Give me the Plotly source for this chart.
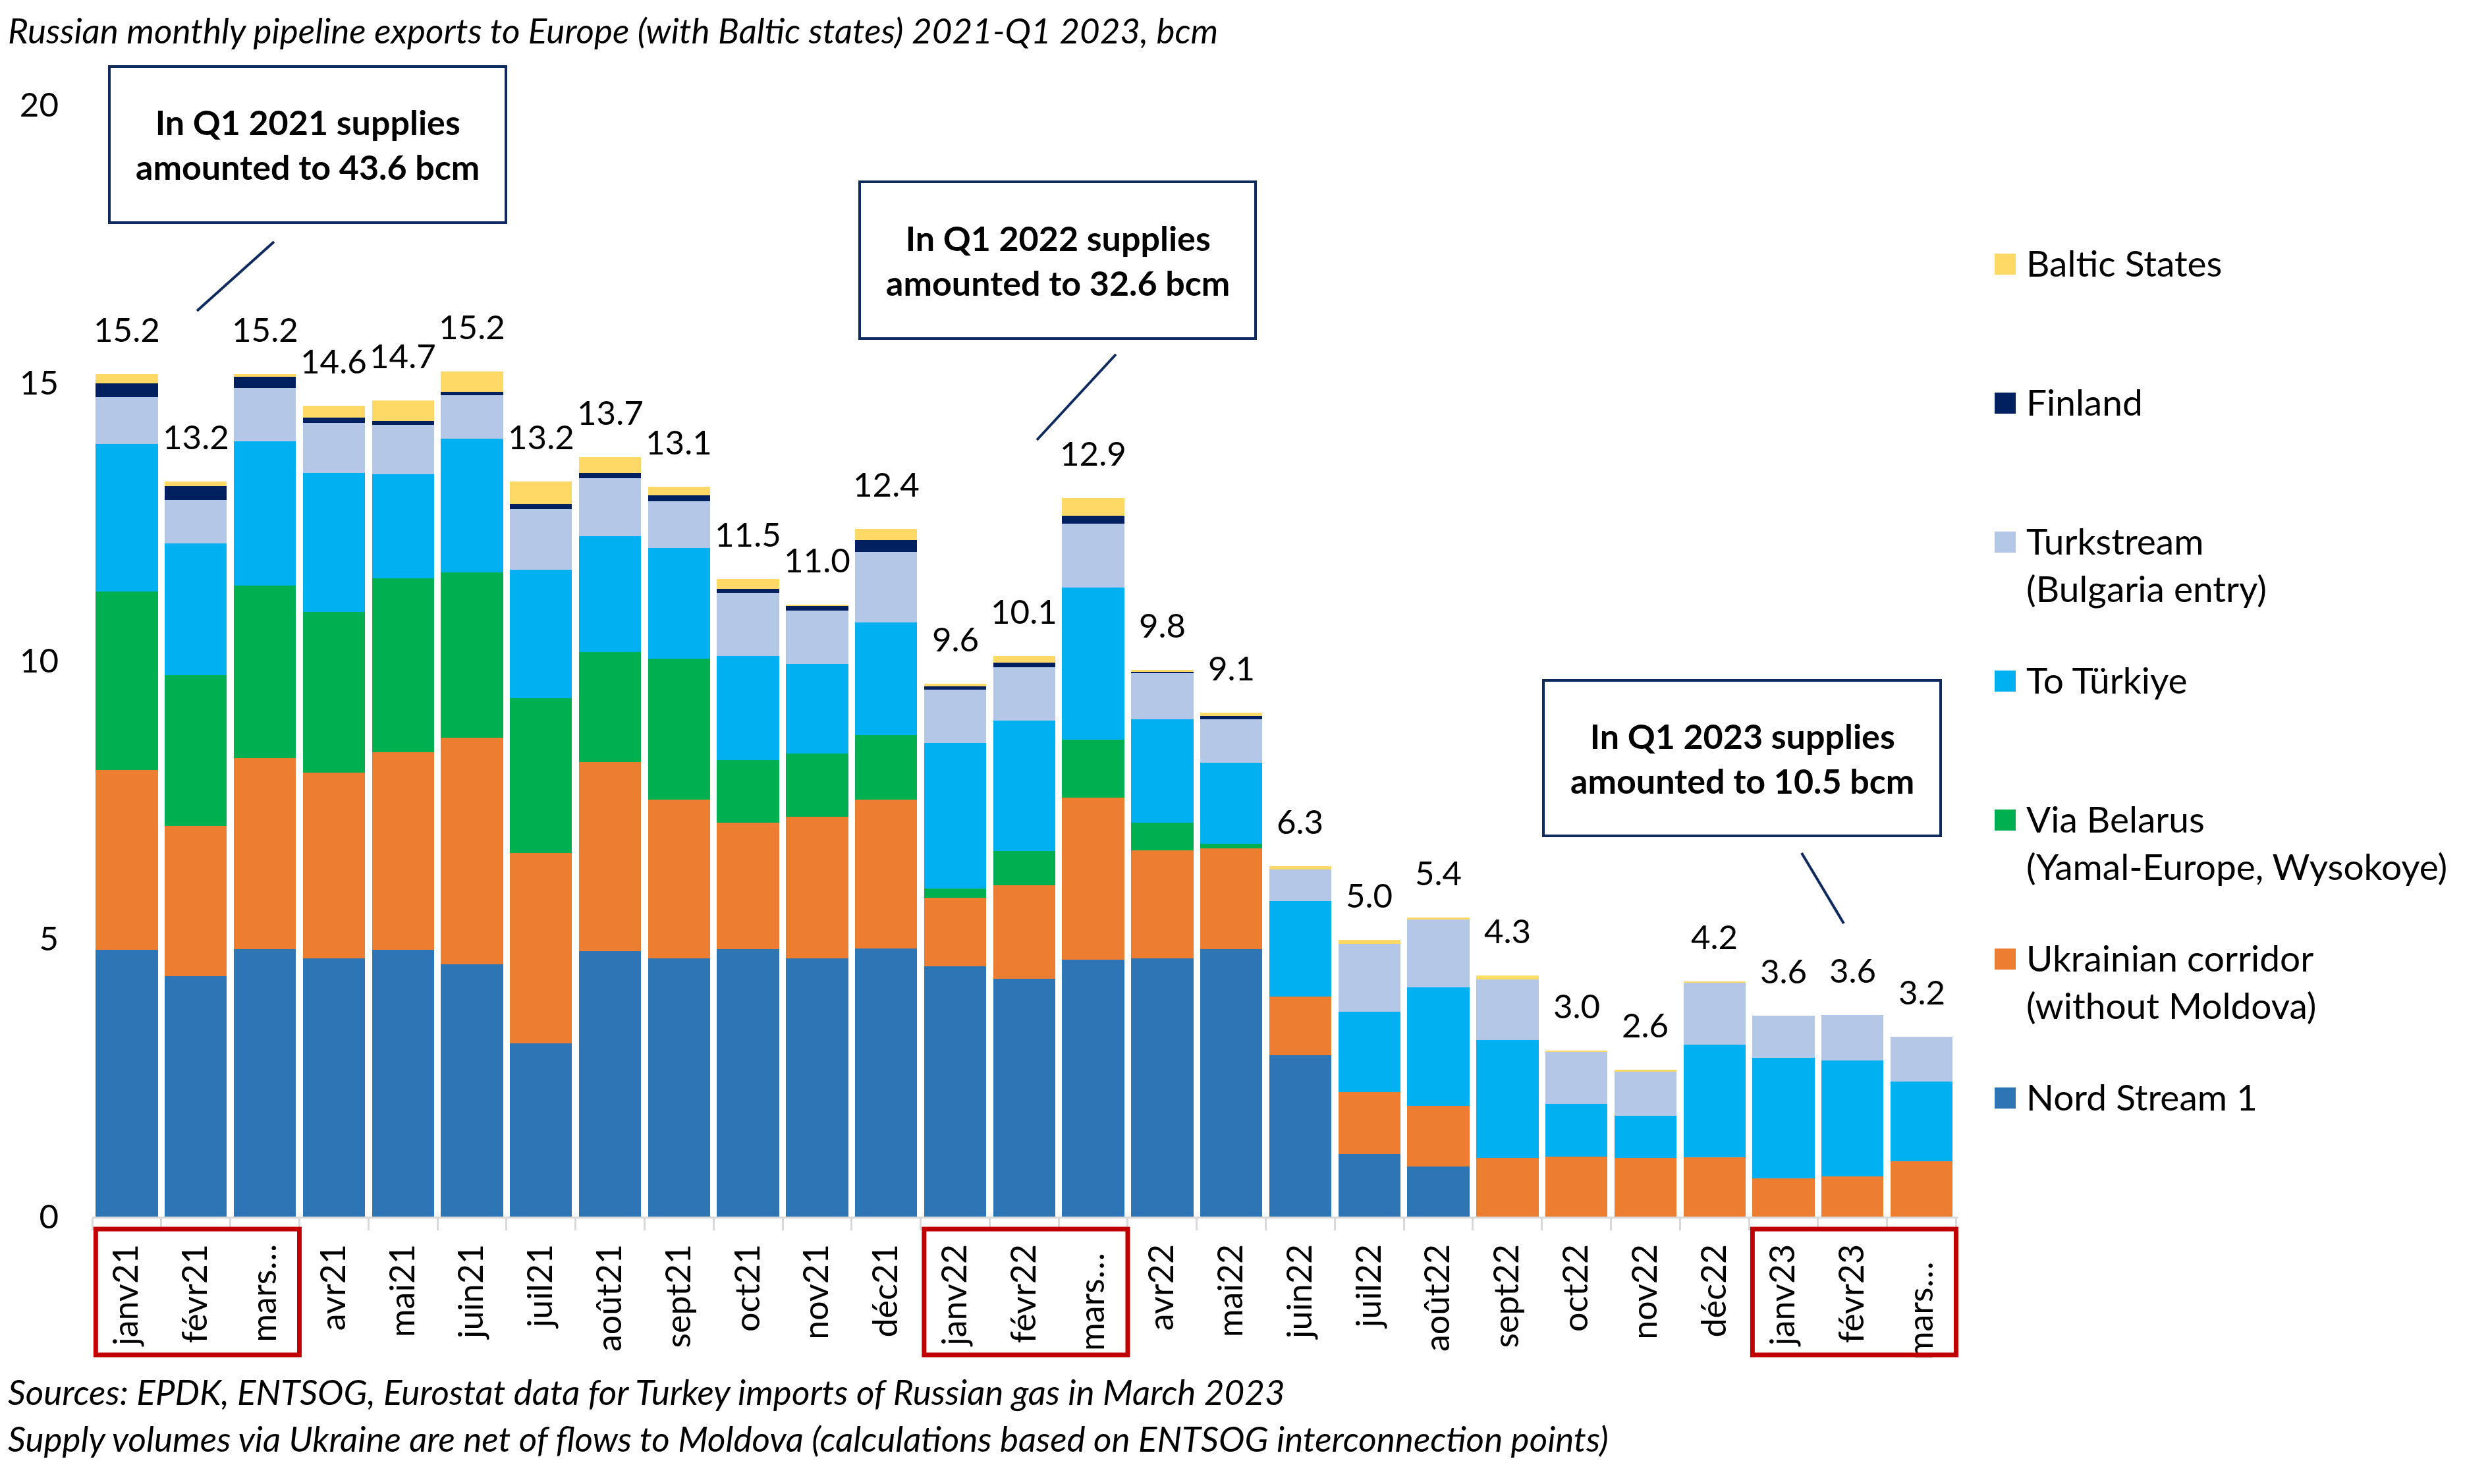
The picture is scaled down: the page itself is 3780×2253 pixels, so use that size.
import plotly.graph_objects as go

# monthly categories (as shown on the axis)
months = ["janv21", "févr21", "mars…", "avr21", "mai21", "juin21", "juil21", "août21",
          "sept21", "oct21", "nov21", "déc21", "janv22", "févr22", "mars… ", "avr22",
          "mai22", "juin22", "juil22", "août22", "sept22", "oct22", "nov22", "déc22",
          "janv23", "févr23", "mars…  "]

# bcm per route
nord_stream = [4.80, 4.33, 4.81, 4.65, 4.80, 4.54, 3.12, 4.77, 4.64, 4.81, 4.64, 4.82,
               4.50, 4.28, 4.62, 4.64, 4.81, 2.90, 1.12, 0.90, 0, 0, 0, 0, 0, 0, 0]
ukraine = [3.23, 2.70, 3.44, 3.33, 3.55, 4.07, 3.42, 3.40, 2.86, 2.27, 2.55, 2.68,
           1.24, 1.68, 2.92, 1.95, 1.81, 1.06, 1.12, 1.09, 1.06, 1.08, 1.06, 1.07,
           0.69, 0.72, 0.99]
belarus = [3.21, 2.71, 3.10, 2.90, 3.13, 2.98, 2.79, 1.98, 2.53, 1.13, 1.14, 1.16,
           0.16, 0.62, 1.04, 0.49, 0.09, 0, 0, 0, 0, 0, 0, 0, 0, 0, 0]
to_turkiye = [2.66, 2.37, 2.59, 2.50, 1.87, 2.40, 2.30, 2.09, 2.00, 1.87, 1.61, 2.03,
              2.62, 2.34, 2.73, 1.86, 1.45, 1.71, 1.45, 2.13, 2.12, 0.95, 0.75, 2.02,
              2.17, 2.09, 1.44]
turkstream = [0.84, 0.78, 0.97, 0.90, 0.89, 0.78, 1.09, 1.04, 0.84, 1.14, 0.96, 1.26,
              0.96, 0.96, 1.15, 0.83, 0.78, 0.57, 1.22, 1.22, 1.08, 0.93, 0.80, 1.12,
              0.75, 0.82, 0.80]
finland = [0.25, 0.25, 0.20, 0.09, 0.07, 0.07, 0.10, 0.10, 0.10, 0.07, 0.09, 0.22,
           0.06, 0.08, 0.15, 0.04, 0.07, 0, 0, 0, 0, 0, 0, 0, 0, 0, 0]
baltic = [0.17, 0.08, 0.05, 0.21, 0.37, 0.36, 0.40, 0.28, 0.16, 0.18, 0.02, 0.20,
          0.04, 0.12, 0.32, 0.02, 0.05, 0.06, 0.07, 0.04, 0.08, 0.03, 0.03, 0.02,
          0, 0, 0]

series_names = ["Nord Stream 1", "Ukrainian corridor<br>(without Moldova)",
                "Via Belarus<br>(Yamal-Europe, Wysokoye)", "To Türkiye",
                "Turkstream<br>(Bulgaria entry)", "Finland", "Baltic States"]
series_values = [nord_stream, ukraine, belarus, to_turkiye, turkstream, finland, baltic]
series_colors = ["#2E75B6", "#ED7D31", "#00B050", "#00B0F0", "#B4C7E7", "#002060", "#FFD966"]

callouts = ["In Q1 2021 supplies<br>amounted to 43.6 bcm",
            "In Q1 2022 supplies<br>amounted to 32.6 bcm",
            "In Q1 2023 supplies<br>amounted to 10.5 bcm"]

FONT = "Lato"
OFF = 8  # page body margin
W, H = 3780 - OFF, 2253 - OFF
PL, PR, PT, PB = 140, 2973, 159, 1847


def fx(x):
    return (x - PL) / (PR - PL)


def fy(y):
    return (PB - y) / (PB - PT)


fig = go.Figure()
for name, vals, col in zip(series_names, series_values, series_colors):
    fig.add_trace(go.Bar(x=months, y=vals, name=name, marker_color=col,
                         marker_line_width=0, showlegend=False))

totals = [sum(v) for v in zip(*series_values)]
annotations = []
for m, t in zip(months, totals):
    annotations.append(dict(x=m, y=t, xref="x", yref="y", text=f"{t:.1f}",
                            showarrow=False, yanchor="bottom", yshift=36,
                            font=dict(family=FONT, size=51, color="black")))

shapes = []
# quarter call-out boxes, text and connector lines
boxes = [(166, 101, 768, 338, (416, 367, 299, 472)),
         (1305, 276, 1906, 514, (1694, 538, 1574, 668)),
         (2343, 1033, 2946, 1269, (2735, 1295, 2799, 1402))]
for (x0, y0, x1, y1, ln), txt in zip(boxes, callouts):
    shapes.append(dict(type="rect", xref="paper", yref="paper", x0=fx(x0), x1=fx(x1),
                       y0=fy(y0), y1=fy(y1), line=dict(color="#0E2A5E", width=4),
                       fillcolor="white", layer="above"))
    shapes.append(dict(type="line", xref="paper", yref="paper", x0=fx(ln[0]), y0=fy(ln[1]),
                       x1=fx(ln[2]), y1=fy(ln[3]), line=dict(color="#0E2A5E", width=4)))
    annotations.append(dict(x=fx((x0 + x1) / 2), y=fy((y0 + y1) / 2), xref="paper",
                            yref="paper", text=f"<b>{txt}</b>", showarrow=False,
                            xanchor="center", yanchor="middle",
                            font=dict(family=FONT, size=52, color="black")))

# red frames round the Q1 month labels
for first, last in [(0, 2), (12, 14), (24, 26)]:
    shapes.append(dict(type="rect", xref="x", yref="paper", x0=first - 0.45, x1=last + 0.5,
                       y0=fy(1866), y1=fy(2057), line=dict(color="#C00000", width=7)))

# legend drawn by hand (top entry first)
leg_y = 401
for name, col in reversed(list(zip(series_names, series_colors))):
    shapes.append(dict(type="rect", xref="paper", yref="paper", x0=fx(3028), x1=fx(3060),
                       y0=fy(leg_y - 16), y1=fy(leg_y + 16), fillcolor=col, line_width=0))
    annotations.append(dict(x=fx(3074), y=fy(leg_y - 37), xref="paper", yref="paper",
                            text=name, showarrow=False, xanchor="left", yanchor="top",
                            align="left", font=dict(family=FONT, size=55, color="black")))
    leg_y += 211

notes = [
    (12, "Russian monthly pipeline exports to Europe (with Baltic states) 2021-Q1 2023, bcm"),
    (2079, "Sources: EPDK, ENTSOG, Eurostat data for Turkey imports of Russian gas in March 2023"),
    (2150, "Supply volumes via Ukraine are net of flows to Moldova (calculations based on ENTSOG interconnection points)"),
]
for ypos, txt in notes:
    annotations.append(dict(x=fx(10), y=fy(ypos), xref="paper", yref="paper",
                            text=f"<i>{txt}</i>", showarrow=False, xanchor="left",
                            yanchor="top", font=dict(family=FONT, size=53, color="black")))

fig.update_layout(
    barmode="stack",
    bargap=0.1,
    width=W,
    height=H,
    margin=dict(l=PL - OFF, r=3780 - PR, t=PT - OFF, b=2253 - PB, pad=0),
    paper_bgcolor="white",
    plot_bgcolor="white",
    font=dict(family=FONT, color="black"),
    annotations=annotations,
    shapes=shapes,
)
fig.update_xaxes(type="category", showline=True, linecolor="#D9D9D9", linewidth=3,
                 ticks="outside", tickson="boundaries", ticklen=18, tickwidth=3,
                 tickcolor="#D9D9D9", tickangle=-90, ticklabelstandoff=18,
                 tickfont=dict(family=FONT, size=52, color="black"), showgrid=False)
fig.update_yaxes(range=[0, 20], tickvals=[0, 5, 10, 15, 20], showgrid=False,
                 zeroline=False, showline=False, ticks="", ticklabelstandoff=50,
                 tickfont=dict(family=FONT, size=51, color="black"))

fig.write_html("out.html")
